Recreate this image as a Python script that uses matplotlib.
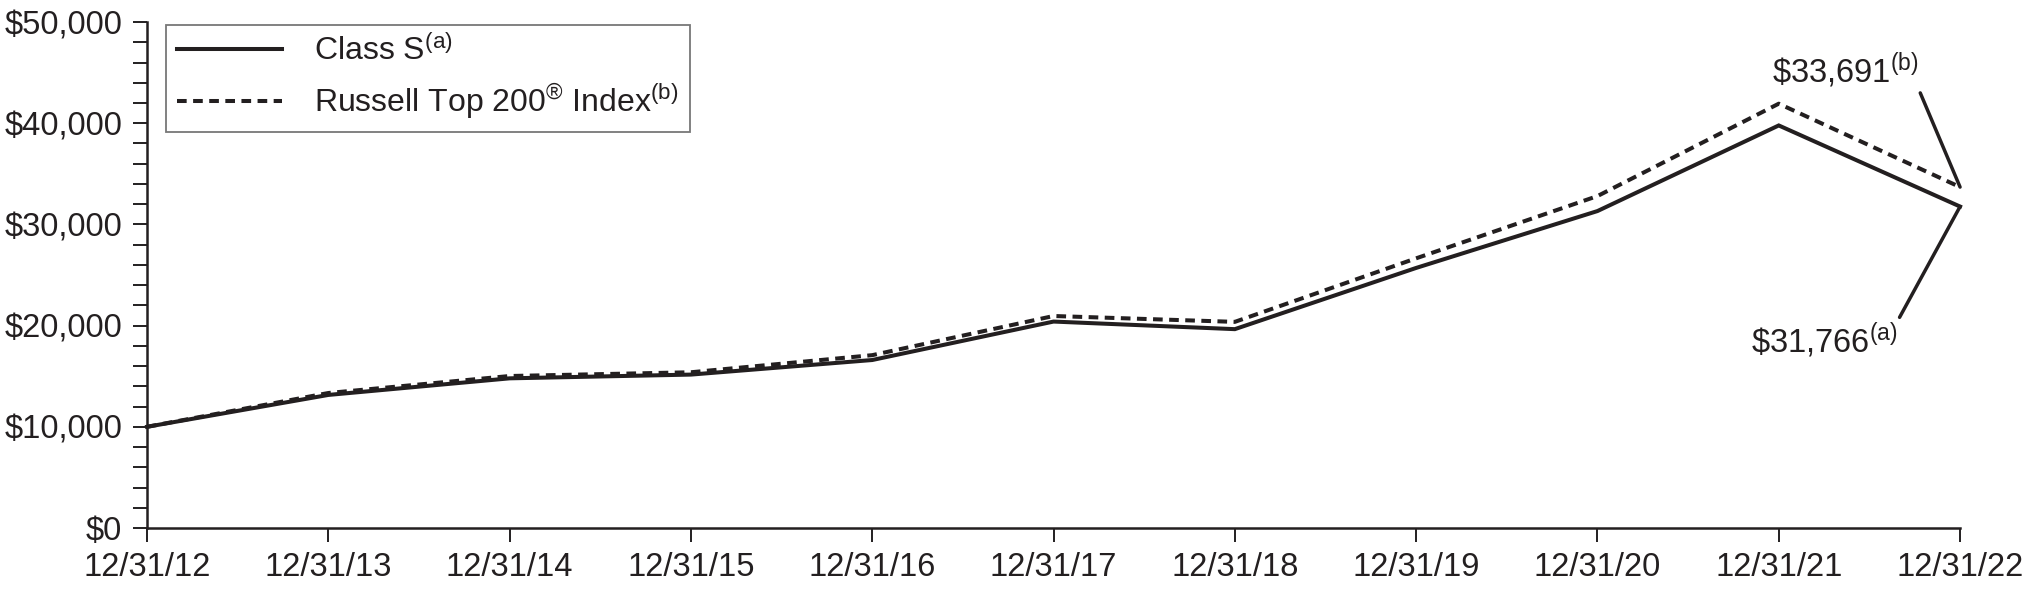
import matplotlib
matplotlib.use("Agg")
import matplotlib.pyplot as plt
from matplotlib.ticker import MultipleLocator, FuncFormatter

plt.rcParams['font.family'] = ['Liberation Sans', 'DejaVu Sans']
plt.rcParams['mathtext.fontset'] = 'custom'
plt.rcParams['mathtext.rm'] = 'Liberation Sans'
plt.rcParams['mathtext.it'] = 'Liberation Sans'

INK = '#231f20'

# data (growth of $10,000)
dates = ['12/31/12', '12/31/13', '12/31/14', '12/31/15', '12/31/16', '12/31/17',
         '12/31/18', '12/31/19', '12/31/20', '12/31/21', '12/31/22']
class_s = [10000, 13150, 14790, 15160, 16600, 20400, 19650, 25700, 31320, 39780, 31766]
russell = [10000, 13340, 15020, 15390, 17080, 20950, 20370, 26650, 32800, 41930, 33691]

fig = plt.figure(figsize=(20.28, 5.92), dpi=100)
ax = fig.add_axes([0.0725, 0.1081, 0.894, 0.8547])

x = list(range(len(dates)))
ax.plot(x, class_s, color=INK, lw=2.9, solid_joinstyle='miter', clip_on=False,
        label=r'Class S$^{\mathrm{(a)}}$')
ax.plot(x, russell, color=INK, lw=2.9, dashes=(2.4, 1.6), clip_on=False,
        label=r'Russell Top 200$^{\mathrm{®}}$ Index$^{\mathrm{(b)}}$')

ax.set_xlim(0, len(dates) - 1)
ax.set_ylim(0, 50000)
ax.set_xticks(x)
ax.set_xticklabels(dates)
ax.yaxis.set_major_locator(MultipleLocator(10000))
ax.yaxis.set_minor_locator(MultipleLocator(2000))
ax.yaxis.set_major_formatter(FuncFormatter(lambda v, p: '${:,.0f}'.format(v)))

for s in ['top', 'right']:
    ax.spines[s].set_visible(False)
for s in ['left', 'bottom']:
    ax.spines[s].set_linewidth(1.8)
    ax.spines[s].set_color(INK)

ax.tick_params(axis='both', which='both', direction='out', length=10, width=1.4,
               color=INK, labelsize=23.5, labelcolor=INK)
ax.tick_params(axis='y', pad=8)
ax.tick_params(axis='x', pad=7)

leg = ax.legend(loc='upper left', bbox_to_anchor=(0.0105, 0.995), borderaxespad=0,
                fontsize=23, handlelength=3.3, handletextpad=1.0, labelspacing=0.45,
                borderpad=0.34, frameon=True, fancybox=False)
leg.get_frame().set_edgecolor('#555555')
leg.get_frame().set_linewidth(1.3)
for t in leg.get_texts():
    t.set_color(INK)

# end-value callouts
ax.annotate(r'\$33,691$^{\mathrm{(b)}}$', xy=(10, russell[-1]), xytext=(9.774, 44030),
            ha='right', va='baseline', fontsize=23.5, color=INK, annotation_clip=False,
            arrowprops=dict(arrowstyle='-', color=INK, lw=2.5, shrinkA=0, shrinkB=0,
                            relpos=(1.0, 0.0)))
ax.annotate(r'\$31,766$^{\mathrm{(a)}}$', xy=(10, class_s[-1]), xytext=(9.658, 17370),
            ha='right', va='baseline', fontsize=23.5, color=INK, annotation_clip=False,
            arrowprops=dict(arrowstyle='-', color=INK, lw=2.5, shrinkA=0, shrinkB=0,
                            relpos=(1.0, 1.0)))

fig.savefig('out.png', dpi=100)
